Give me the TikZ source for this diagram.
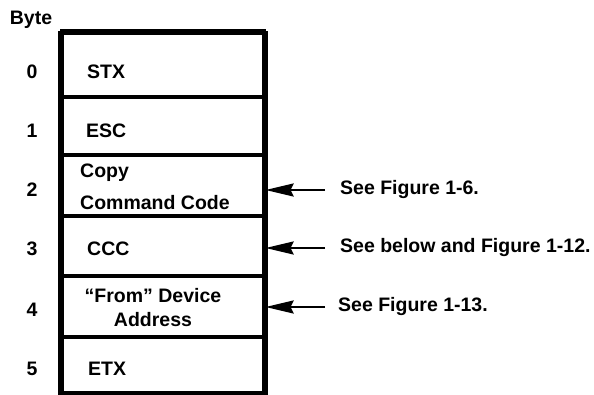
\documentclass[tikz,border=0pt]{standalone}
\usepackage{fontspec}
\setmainfont{Liberation Sans}
\usetikzlibrary{arrows.meta}
\tikzset{
  lbl/.style={font=\fontsize{19.5}{24}\selectfont\bfseries, inner sep=0pt},
  cell/.style={draw, line width=3.2pt, minimum width=202pt, inner sep=0pt},
  side/.style={line width=5pt},
  note/.style={lbl, anchor=west},
  pointer/.style={line width=2.4pt, -{Stealth[length=28pt,width=13pt,inset=3pt]}}
}
\begin{document}
\begin{tikzpicture}[x=1pt,y=-1pt]
  \useasboundingbox (0,0) rectangle (594,395);
  % byte cells
  \node[cell, minimum height=64pt] (r0) at (163,65) {};
  \node[cell, minimum height=58pt] (r1) at (163,126) {};
  \node[cell, minimum height=61pt] (r2) at (163,185.5) {};
  \node[cell, minimum height=60pt] (r3) at (163,246) {};
  \node[cell, minimum height=61pt] (r4) at (163,306.5) {};
  \node[cell, minimum height=56pt] (r5) at (163,365) {};
  \draw[side] (r0.north west) -- (r5.south west);
  \draw[side] (r0.north east) -- (r5.south east);
  \draw[line width=4.5pt] (r0.north west) -- (r0.north east);
  % byte numbers
  \node[lbl, anchor=base] (byte) at (31,25) {Byte};
  \node[lbl, anchor=base] (b0) at (32,79) {0};
  \node[lbl, anchor=base] (b1) at (32,138) {1};
  \node[lbl, anchor=base] (b2) at (32,197) {2};
  \node[lbl, anchor=base] (b3) at (32,255) {3};
  \node[lbl, anchor=base] (b4) at (32,316) {4};
  \node[lbl, anchor=base] (b5) at (32,375) {5};
  % cell contents
  \node[lbl, anchor=base west] (t0) at (87,79) {STX};
  \node[lbl, anchor=base west] (t1) at (86,138) {ESC};
  \node[lbl, anchor=west, align=left, font=\fontsize{19.5}{32}\selectfont\bfseries] (t2) at (80,187) {Copy\\Command Code};
  \node[lbl, anchor=base west] (t3) at (87,255) {CCC};
  \node[lbl, align=center] (t4) at (153,308) {``From'' Device\\Address};
  \node[lbl, anchor=base west] (t5) at (88,375) {ETX};
  % references
  \node[note] (n2) at (340,190) {See Figure 1-6.};
  \node[note] (n3) at (340,248) {See below and Figure 1-12.};
  \node[note] (n4) at (338,307) {See Figure 1-13.};
  \draw[pointer] ([xshift=-15pt]n2.west) -- (n2.west -| r2.east);
  \draw[pointer] ([xshift=-15pt]n3.west) -- (n3.west -| r3.east);
  \draw[pointer] ([xshift=-13pt]n4.west) -- (n4.west -| r4.east);
\end{tikzpicture}
\end{document}
